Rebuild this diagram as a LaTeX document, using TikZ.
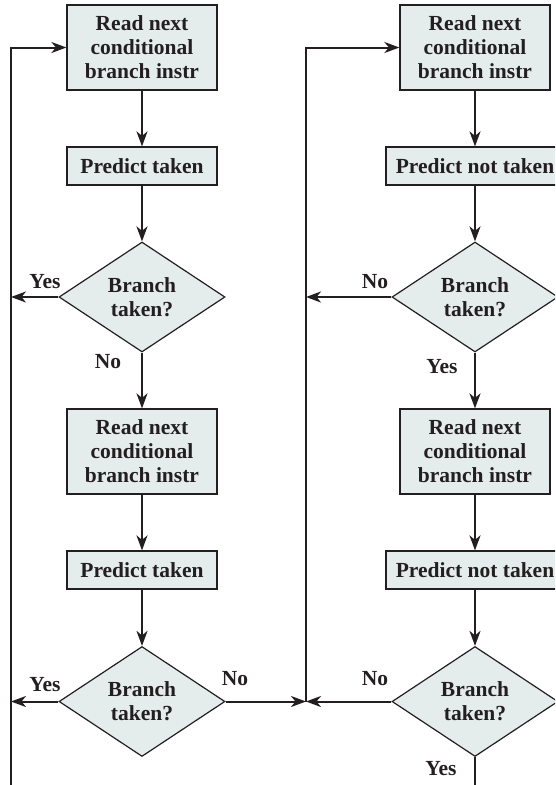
\documentclass[tikz,border=0pt]{standalone}
\usepackage{fontspec}
\setmainfont{Liberation Serif}
\usetikzlibrary{shapes.geometric,arrows.meta}
\definecolor{boxfill}{HTML}{E5ECEC}
\definecolor{ink}{HTML}{231F20}
\begin{document}
\begin{tikzpicture}[x=1pt,y=-1pt,
  every node/.style={font=\fontsize{21.5}{24}\selectfont\bfseries, text=ink},
  bigbox/.style={draw=ink, fill=boxfill, line width=1.2pt, minimum width=150pt, minimum height=85pt, align=center, inner sep=0pt},
  smallbox/.style={draw=ink, fill=boxfill, line width=1.2pt, minimum height=38pt, align=center, inner sep=0pt},
  decide/.style={diamond, draw=ink, fill=boxfill, line width=1.2pt, minimum width=166pt, minimum height=110pt, inner sep=0pt, align=center},
  lbl/.style={inner sep=0pt},
  conn/.style={draw=ink, line width=2pt},
  arr/.style={conn, -{Stealth[length=15pt,width=11pt,inset=4.5pt]}}
]
\useasboundingbox (0,0) rectangle (555,785);
\clip (0,0) rectangle (555,785);
% left column
\node[bigbox] (L1) at (142,47.5) {Read next\\conditional\\branch instr};
\node[smallbox, minimum width=150pt] (L2) at (142,166) {Predict taken};
\node[decide] (LD1) at (142,297) {Branch\\taken?};
\node[bigbox] (L3) at (142,451.5) {Read next\\conditional\\branch instr};
\node[smallbox, minimum width=150pt] (L4) at (142,570) {Predict taken};
\node[decide] (LD2) at (142,701.5) {Branch\\taken?};
% right column
\node[bigbox] (R1) at (475,47.5) {Read next\\conditional\\branch instr};
\node[smallbox, minimum width=178pt] (R2) at (475,166) {Predict not taken};
\node[decide] (RD1) at (475,297) {Branch\\taken?};
\node[bigbox] (R3) at (475,451.5) {Read next\\conditional\\branch instr};
\node[smallbox, minimum width=178pt] (R4) at (475,570) {Predict not taken};
\node[decide] (RD2) at (475,701.5) {Branch\\taken?};
% coordinates on the return lines
\coordinate (LB) at (11,785);
\coordinate (LY1) at (11,297);
\coordinate (LY2) at (11,701.5);
\coordinate (MJ) at (306,701.5);
\coordinate (MN1) at (306,297);
\coordinate (RB) at (475,785);
% labels
\node[lbl] at (45,282) {Yes};
\node[lbl] at (108,362) {No};
\node[lbl] at (45,685) {Yes};
\node[lbl] at (235,679) {No};
\node[lbl] at (375,282) {No};
\node[lbl] at (442,367) {Yes};
\node[lbl] at (375,679) {No};
\node[lbl] at (441,769) {Yes};
% left column connectors
\draw[arr] (L1) -- (L2);
\draw[arr] (L2) -- (LD1);
\draw[arr] (LD1) -- (L3);
\draw[arr] (L3) -- (L4);
\draw[arr] (L4) -- (LD2);
\draw[arr] (LD1.west) -- (LY1);
\draw[arr] (LD2.west) -- (LY2);
\draw[arr] (LD2.east) -- (MJ);
\draw[arr] (LB) |- (L1.west);
% right column connectors
\draw[arr] (R1) -- (R2);
\draw[arr] (R2) -- (RD1);
\draw[arr] (RD1) -- (R3);
\draw[arr] (R3) -- (R4);
\draw[arr] (R4) -- (RD2);
\draw[arr] (RD1.west) -- (MN1);
\draw[arr] (RD2.west) -- (MJ);
\draw[arr] (MJ) |- (R1.west);
\draw[conn] (RD2.south) -- (RB);
\end{tikzpicture}
\end{document}
